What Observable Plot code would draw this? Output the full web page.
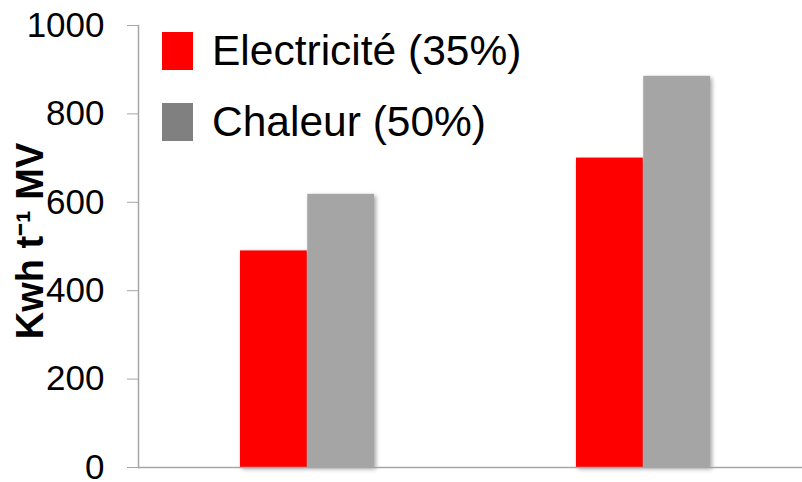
<!DOCTYPE html>
<html><head><meta charset="utf-8">
<script src="https://cdn.jsdelivr.net/npm/d3@7"></script>
<script src="https://cdn.jsdelivr.net/npm/@observablehq/plot@0.6"></script>
<style>
body{margin:0;background:#fff;}
#wrap{position:relative;width:802px;height:482px;font-family:"Liberation Sans",Arial,sans-serif;}
#legend{position:absolute;left:162px;top:32px;}
.item{display:flex;align-items:center;height:38px;margin-bottom:33px;}
.sw{width:31px;height:38px;margin-right:19px;}
.lab{font-size:42.5px;line-height:38px;color:#000;white-space:nowrap;}
g[aria-label="bar"]{filter:drop-shadow(2px 2px 2px rgba(0,0,0,0.35));}
</style></head>
<body><div id="wrap"><div id="legend"></div></div>
<script>
const groups = ["1", "2"];
const series = ["Electricité (35%)", "Chaleur (50%)"];
const electricite = [490, 700];
const chaleur = [618, 885];
const barColors = ["#FF0000", "#A5A5A5"];
const legendColors = ["#FF0000", "#808080"];
const yTicks = [0, 200, 400, 600, 800, 1000];
const yLabel = "Kwh t⁻¹ MV";

const redData = groups.map((g, i) => ({group: g, value: electricite[i]}));
const grayData = groups.map((g, i) => ({group: g, value: chaleur[i]}));

const xRange = [138, 811];
const bw = (xRange[1] - xRange[0]) / groups.length;
const axisColor = "#A6A6A6";

const chart = Plot.plot({
  width: 802,
  height: 482,
  marginLeft: 138,
  marginRight: 0,
  marginTop: 25,
  marginBottom: 15,
  style: {fontFamily: "'Liberation Sans', Arial, sans-serif", color: "#000", background: "#fff", overflow: "visible"},
  x: {domain: groups, range: xRange, padding: 0, axis: null},
  y: {domain: [0, 1000]},
  marks: [
    Plot.barY(redData, {x: "group", y: "value", fill: barColors[0], insetLeft: bw * 0.3, insetRight: bw * 0.5}),
    Plot.barY(grayData, {x: "group", y: "value", fill: barColors[1], insetLeft: bw * 0.5, insetRight: bw * 0.3}),
    Plot.frame({anchor: "left", stroke: axisColor, strokeWidth: 1.5}),
    Plot.ruleY([0], {stroke: axisColor, strokeWidth: 1.5}),
    Plot.axisY(yTicks, {tickSize: 11, tickPadding: 23, fontSize: 35, stroke: axisColor, fill: "#000", label: null, tickFormat: d => String(d)}),
    Plot.text([yLabel], {text: d => d, frameAnchor: "left", rotate: -90, dx: -96, dy: -5.5, fontSize: 38, fontWeight: "bold", lineAnchor: "bottom", textAnchor: "middle", fill: "#000"})
  ]
});
document.getElementById("wrap").prepend(chart);

const legend = document.getElementById("legend");
series.forEach((s, i) => {
  const item = document.createElement("div");
  item.className = "item";
  const sw = document.createElement("div");
  sw.className = "sw";
  sw.style.background = legendColors[i];
  const lab = document.createElement("div");
  lab.className = "lab";
  lab.textContent = s;
  item.append(sw, lab);
  legend.append(item);
});
</script>
</body></html>
